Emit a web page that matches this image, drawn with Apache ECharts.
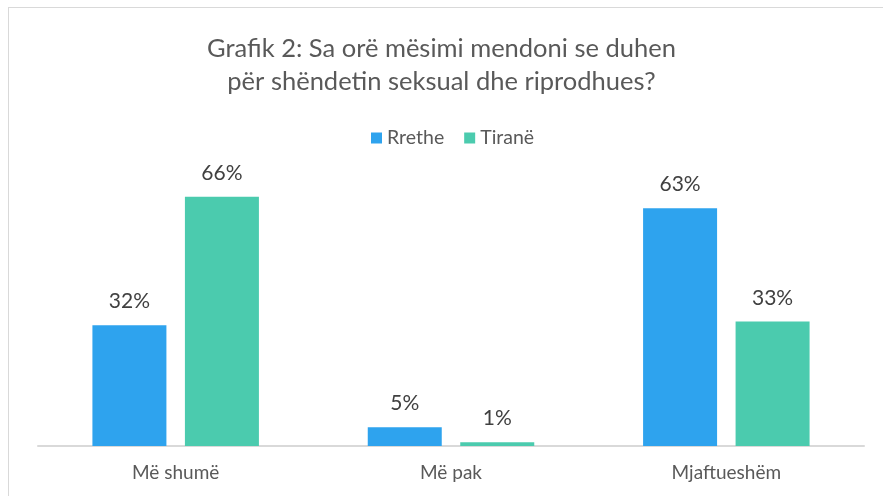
<!DOCTYPE html>
<html>
<head>
<meta charset="utf-8">
<script src="https://cdn.jsdelivr.net/npm/echarts@6/dist/echarts.min.js"></script>
<style>
  html, body { margin: 0; padding: 0; background: #fff; }
  #frame { position: absolute; left: 8px; top: 7px; width: 900px; height: 520px; border: 1px solid #d9d9d9; box-sizing: border-box; }
  #chart { position: absolute; left: 0; top: 0; width: 883px; height: 496px; }
</style>
</head>
<body>
<div id="frame"></div>
<div id="chart"></div>
<script>
const categories = ['Më shumë', 'Më pak', 'Mjaftueshëm'];
const rretheValues = [32, 5, 63];
const tiraneValues = [66, 1, 33];
const seriesNames = ['Rrethe', 'Tiranë'];

const font = 'Lato, "Open Sans", sans-serif';
const chart = echarts.init(document.getElementById('chart'));

const labelStyle = {
    show: true,
    position: 'top',
    distance: 13,
    formatter: '{c}%',
    color: '#404040',
    fontSize: 21,
    fontFamily: font
};

chart.setOption({
    animation: false,
    title: {
        text: 'Grafik 2: Sa orë mësimi mendoni se duhen\npër shëndetin seksual dhe riprodhues?',
        left: 'center',
        top: 27,
        textStyle: {
            color: '#595959',
            fontSize: 25.5,
            fontWeight: 'normal',
            fontFamily: font,
            lineHeight: 33
        }
    },
    legend: {
        top: 123,
        left: 366,
        itemWidth: 11,
        itemHeight: 11,
        itemGap: 20,
        icon: 'rect',
        textStyle: { color: '#595959', fontSize: 19.5, fontFamily: font },
        data: seriesNames
    },
    grid: { left: 38, right: 19, top: 144, bottom: 50, containLabel: false },
    xAxis: {
        type: 'category',
        data: categories,
        axisLine: { lineStyle: { color: '#d9d9d9', width: 2 } },
        axisTick: { show: false },
        axisLabel: { color: '#595959', fontSize: 19, fontFamily: font, margin: 17 }
    },
    yAxis: {
        type: 'value',
        min: 0,
        max: 80,
        show: false,
        splitLine: { show: false }
    },
    series: [
        {
            name: seriesNames[0],
            type: 'bar',
            data: rretheValues,
            barWidth: 74,
            barGap: '25%',
            itemStyle: { color: '#2EA3EE' },
            label: labelStyle
        },
        {
            name: seriesNames[1],
            type: 'bar',
            data: tiraneValues,
            barWidth: 74,
            itemStyle: { color: '#4BCBAE' },
            label: labelStyle
        }
    ]
});
</script>
</body>
</html>
